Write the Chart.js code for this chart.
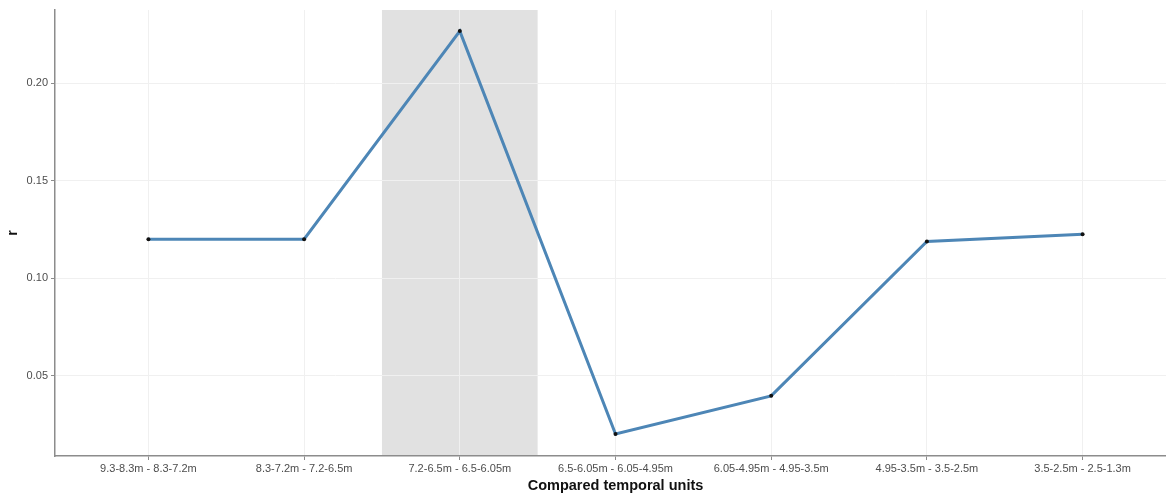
<!DOCTYPE html>
<html lang="en">
<head>
    <meta charset="UTF-8">
    <title>Compared temporal units</title>
    <script src="https://cdnjs.cloudflare.com/ajax/libs/Chart.js/4.4.1/chart.umd.min.js"></script>
    <style>
        html, body {
            margin: 0;
            padding: 0;
            background: white;
        }
        .wrap {
            width: 1166px;
            height: 495px;
            overflow: hidden;
        }
        .chart-box {
            position: relative;
            width: 1180px;
            height: 495px;
        }
    </style>
</head>
<body>
    <div class="wrap">
        <div class="chart-box">
            <canvas id="lineChart"></canvas>
        </div>
    </div>

    <script>
        const units = [
            '9.3-8.3m - 8.3-7.2m',
            '8.3-7.2m - 7.2-6.5m',
            '7.2-6.5m - 6.5-6.05m',
            '6.5-6.05m - 6.05-4.95m',
            '6.05-4.95m - 4.95-3.5m',
            '4.95-3.5m - 3.5-2.5m',
            '3.5-2.5m - 2.5-1.3m'
        ];
        const rValues = [0.120, 0.120, 0.2266, 0.0203, 0.0398, 0.1189, 0.1225];
        const yTicks = [0.05, 0.10, 0.15, 0.20];
        // highlighted comparison (index in units)
        const highlightIndex = 2;

        const axisGray = '#8c8c8c';
        const labelGray = '#4d4d4d';
        const gridGray = '#f0f0f0';

        // grey band behind the highlighted comparison
        const bandPlugin = {
            id: 'band',
            beforeDraw(chart) {
                const { ctx, chartArea, scales } = chart;
                const x0 = scales.x.getPixelForValue(highlightIndex - 0.5);
                const x1 = scales.x.getPixelForValue(highlightIndex + 0.5);
                ctx.save();
                ctx.fillStyle = 'rgba(200,200,200,0.55)';
                ctx.fillRect(x0, chartArea.top, x1 - x0, chartArea.bottom - chartArea.top);
                ctx.restore();
            }
        };

        const points = rValues.map((v, i) => ({ x: i, y: v }));

        new Chart(document.getElementById('lineChart'), {
            type: 'line',
            data: {
                datasets: [{
                    data: points,
                    borderColor: '#4d86b6',
                    borderWidth: 3,
                    pointRadius: 2,
                    pointBackgroundColor: '#111',
                    pointBorderColor: '#111',
                    pointBorderWidth: 0,
                    tension: 0
                }]
            },
            options: {
                responsive: true,
                maintainAspectRatio: false,
                animation: false,
                layout: { padding: { top: 10, right: 4, left: 0, bottom: 0 } },
                plugins: {
                    legend: { display: false },
                    tooltip: { enabled: false }
                },
                scales: {
                    x: {
                        type: 'linear',
                        min: -0.6,
                        max: units.length - 1 + 0.6,
                        afterBuildTicks: axis => {
                            axis.ticks = units.map((u, i) => ({ value: i }));
                        },
                        afterFit: axis => { axis.height = 39; },
                        ticks: {
                            callback: v => units[v],
                            color: labelGray,
                            font: { family: 'Liberation Sans, Arial', size: 11 },
                            padding: 2,
                            maxRotation: 0,
                            autoSkip: false
                        },
                        grid: {
                            color: gridGray,
                            tickColor: axisGray,
                            tickLength: 4,
                            lineWidth: 1
                        },
                        border: { color: axisGray, width: 1.5 },
                        title: {
                            display: true,
                            text: 'Compared temporal units',
                            color: '#111',
                            font: { family: 'Liberation Sans, Arial', size: 14.5, weight: 'bold' },
                            padding: { top: 5, bottom: 0 }
                        }
                    },
                    y: {
                        min: 0.009,
                        max: 0.2374,
                        afterBuildTicks: axis => {
                            axis.ticks = yTicks.map(v => ({ value: v }));
                        },
                        afterFit: axis => { axis.width = 55; },
                        ticks: {
                            callback: v => v.toFixed(2),
                            color: labelGray,
                            font: { family: 'Liberation Sans, Arial', size: 11 },
                            padding: 3
                        },
                        grid: {
                            color: gridGray,
                            tickColor: axisGray,
                            tickLength: 4,
                            lineWidth: 1
                        },
                        border: { color: axisGray, width: 1.5 },
                        title: {
                            display: true,
                            text: 'r',
                            color: '#111',
                            font: { family: 'Liberation Sans, Arial', size: 14, weight: 'bold' },
                            padding: { top: 5, bottom: 0 }
                        }
                    }
                }
            },
            plugins: [bandPlugin]
        });
    </script>
</body>
</html>
